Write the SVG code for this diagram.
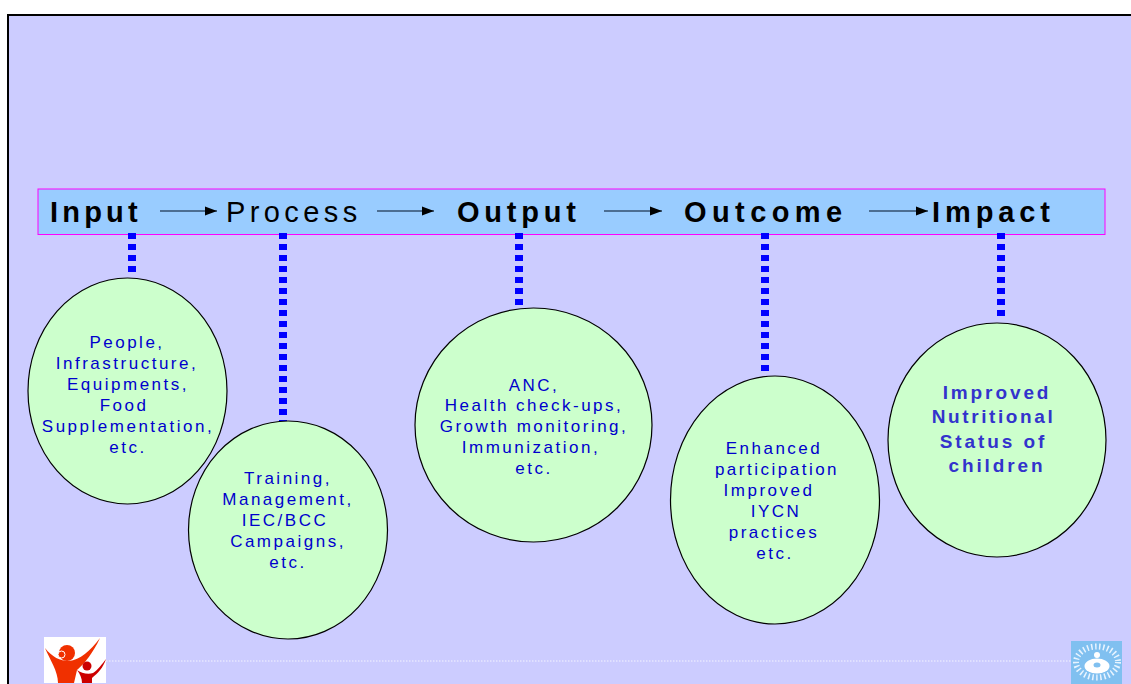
<svg xmlns="http://www.w3.org/2000/svg" width="1131" height="684" viewBox="0 0 1131 684">
<style>
text{font-family:"Liberation Sans",Arial,sans-serif}
.h{font-size:29px;fill:#000;letter-spacing:4.4px}
.b{font-weight:bold}
.c{font-size:17px;fill:#0000cc;letter-spacing:2.500px;text-anchor:middle}
.i{font-size:19px;font-weight:bold;fill:#3333cc;letter-spacing:2.900px;text-anchor:middle}
.e{fill:#ccffcc;stroke:#000;stroke-width:1.2}
.d{stroke:#0000ff;stroke-width:8;stroke-dasharray:6 5;fill:none}
.a{stroke:#334f6e;stroke-width:1.5;fill:none;marker-end:url(#ah)}
</style>
<defs><marker id="ah" markerUnits="userSpaceOnUse" markerWidth="12" markerHeight="10" refX="12" refY="5" orient="auto"><path d="M0 .5L12 5L0 9.500Z" fill="#000"/></marker></defs>
<rect width="1131" height="684" fill="#fff"/>
<rect x="8" y="15" width="1123" height="669" fill="#ccccff"/>
<path d="M8 684V15H1131" fill="none" stroke="#000" stroke-width="2"/>
<line x1="106" y1="661" x2="1071" y2="661" stroke="#fff" stroke-width="1" stroke-dasharray="1.5 1.5" opacity=".8"/>
<g id="banner"><rect x="38" y="189" width="1067" height="45.500" fill="#99ccff" stroke="#ff00ff" stroke-width="1"/>
<text class="h b" x="50" y="222" style="letter-spacing:4.200px">Input</text><text class="h" x="226" y="222">Process</text><text class="h b" x="457" y="222" style="letter-spacing:4.800px">Output</text><text class="h b" x="684" y="222" style="letter-spacing:5.400px">Outcome</text><text class="h b" x="932" y="222" style="letter-spacing:4.900px">Impact</text></g>
<g id="connectors">
<line class="a" x1="160" y1="211" x2="217" y2="211"/><line class="a" x1="377" y1="211" x2="434" y2="211"/><line class="a" x1="604" y1="211" x2="662" y2="211"/><line class="a" x1="869" y1="211" x2="928" y2="211"/>
<line class="d" x1="132" y1="233" x2="132" y2="274"/><line class="d" x1="283" y1="233" x2="283" y2="421"/><line class="d" x1="519" y1="233" x2="519" y2="308"/><line class="d" x1="765" y1="233" x2="765" y2="376"/><line class="d" x1="1001" y1="233" x2="1001" y2="320"/>
</g>
<g id="node-input"><ellipse class="e" cx="127.500" cy="391" rx="99.500" ry="113"/><text class="c"><tspan x="127" y="348">People,</tspan><tspan x="127" y="369">Infrastructure,</tspan><tspan x="128" y="390">Equipments,</tspan><tspan x="124" y="411">Food</tspan><tspan x="128" y="432">Supplementation,</tspan><tspan x="128" y="453">etc.</tspan></text></g>
<g id="node-process"><ellipse class="e" cx="288" cy="530" rx="99.500" ry="109"/><text class="c"><tspan x="288" y="484">Training,</tspan><tspan x="288" y="505">Management,</tspan><tspan x="285" y="526">IEC/BCC</tspan><tspan x="288" y="547">Campaigns,</tspan><tspan x="288" y="568">etc.</tspan></text></g>
<g id="node-output"><ellipse class="e" cx="533.500" cy="425" rx="118.500" ry="117"/><text class="c"><tspan x="534" y="391">ANC,</tspan><tspan x="534" y="411">Health check-ups,</tspan><tspan x="534" y="432">Growth monitoring,</tspan><tspan x="531" y="453">Immunization,</tspan><tspan x="534" y="474">etc.</tspan></text></g>
<g id="node-outcome"><ellipse class="e" cx="775" cy="500" rx="104.500" ry="124"/><text class="c"><tspan x="774" y="454">Enhanced</tspan><tspan x="777" y="475">participation</tspan><tspan x="769" y="496">Improved</tspan><tspan x="776" y="517">IYCN</tspan><tspan x="774" y="538">practices</tspan><tspan x="775" y="559">etc.</tspan></text></g>
<g id="node-impact"><ellipse class="e" cx="997" cy="440" rx="109" ry="117"/><text class="i"><tspan x="997" y="399">Improved</tspan><tspan x="993.500" y="423" style="letter-spacing:2.600px">Nutritional</tspan><tspan x="993.500" y="448">Status of</tspan><tspan x="997" y="472">children</tspan></text></g>
<g id="logo-left"><rect x="44" y="637" width="62" height="46" fill="#fff"/>
<circle cx="67" cy="653" r="8" fill="#f03000"/><circle cx="61.500" cy="654.500" r="3.500" fill="#f03000" stroke="#fff" stroke-width="1"/>
<path d="M45 648C52 657 60 661 69 661C80 660 90 651 100 638C93 653 85 663 77 670L74 683H58C58 671 50 660 45 648Z" fill="#f03000"/>
<circle cx="87" cy="666" r="4.500" fill="#cc0000"/>
<path d="M77 670C81 673 88 675 93 673C98 670 102 664 106 659C103 668 98 673 92 678L92 683H82C82 678 80 674 77 670Z" fill="#cc0000"/></g>
<g id="logo-right"><rect x="1071" y="641" width="51" height="43" fill="#80c0f0"/>
<ellipse cx="1097" cy="662" rx="21" ry="15.500" fill="none" stroke="#e8f4ff" stroke-width="6" stroke-dasharray="1.500 2.500"/>
<circle cx="1097" cy="655" r="3" fill="#fff"/><ellipse cx="1097" cy="666" rx="12.500" ry="7.500" fill="#fff"/><ellipse cx="1097" cy="665" rx="3.500" ry="2.500" fill="#80c0f0"/></g>
</svg>
